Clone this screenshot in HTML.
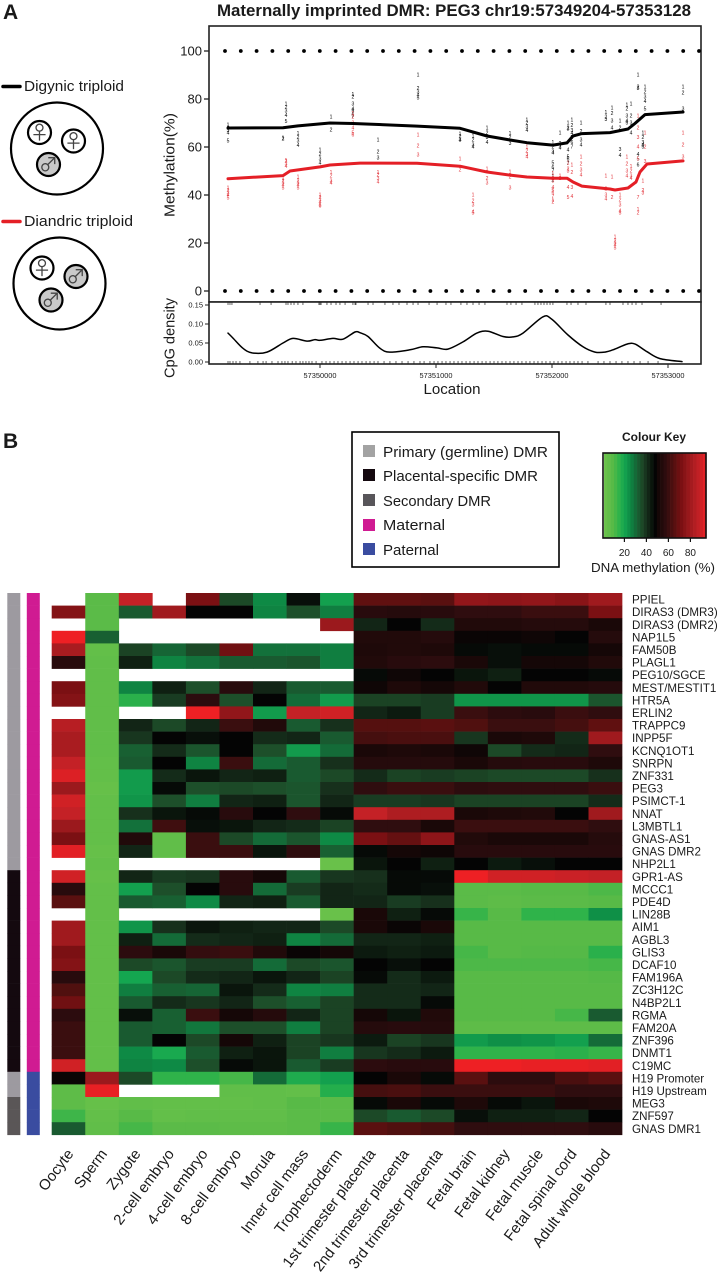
<!DOCTYPE html>
<html>
<head>
<meta charset="utf-8">
<title>Maternally imprinted DMR: PEG3</title>
<style>
html,body{margin:0;padding:0;background:#fff;width:717px;height:1280px;overflow:hidden}
svg{display:block;font-family:"Liberation Sans",sans-serif}
text{fill:#1a1a1a}
.sym{font-family:"Noto Sans CJK JP","DejaVu Sans",sans-serif}
text.sym{fill:#444}
</style>
</head>
<body>
<svg id="figure" xmlns="http://www.w3.org/2000/svg" width="717" height="1280" viewBox="0 0 717 1280">
  <text x="3" y="19" font-size="21" font-weight="bold">A</text>
  <text x="3" y="448" font-size="21" font-weight="bold">B</text>
  <text x="217" y="16" font-size="16.5" font-weight="bold" textLength="474" lengthAdjust="spacingAndGlyphs">Maternally imprinted DMR: PEG3 chr19:57349204-57353128</text>

  <g>
    <line x1="3" y1="86.5" x2="20" y2="86.5" stroke="#000" stroke-width="3.5" stroke-linecap="round"/>
    <text x="24" y="91" font-size="15" textLength="100" lengthAdjust="spacingAndGlyphs">Digynic triploid</text>
    <circle cx="57" cy="148.5" r="46" fill="#fff" stroke="#000" stroke-width="2.2"/>
    <circle cx="39.5" cy="132.5" r="11.5" fill="#fff" stroke="#000" stroke-width="2.2"/>
    <text class="sym" x="39.5" y="139" font-size="19" text-anchor="middle">♀</text>
    <circle cx="73.5" cy="141" r="11.5" fill="#fff" stroke="#000" stroke-width="2.2"/>
    <text class="sym" x="73.5" y="147.5" font-size="19" text-anchor="middle">♀</text>
    <circle cx="48.5" cy="164.5" r="11.5" fill="#c9c9c9" stroke="#000" stroke-width="2.2"/>
    <text class="sym" x="48.5" y="171" font-size="19" text-anchor="middle">♂</text>

    <line x1="3" y1="221.5" x2="20" y2="221.5" stroke="#e41f26" stroke-width="3.5" stroke-linecap="round"/>
    <text x="24" y="226" font-size="15" textLength="109" lengthAdjust="spacingAndGlyphs">Diandric triploid</text>
    <circle cx="59.5" cy="283.5" r="46" fill="#fff" stroke="#000" stroke-width="2.2"/>
    <circle cx="42" cy="268" r="11.5" fill="#fff" stroke="#000" stroke-width="2.2"/>
    <text class="sym" x="42" y="274.5" font-size="19" text-anchor="middle">♀</text>
    <circle cx="76" cy="276.5" r="11.5" fill="#c9c9c9" stroke="#000" stroke-width="2.2"/>
    <text class="sym" x="76" y="283" font-size="19" text-anchor="middle">♂</text>
    <circle cx="51" cy="300" r="11.5" fill="#c9c9c9" stroke="#000" stroke-width="2.2"/>
    <text class="sym" x="51" y="306.5" font-size="19" text-anchor="middle">♂</text>
  </g>

  <text transform="translate(174.5,165) rotate(-90)" font-size="15" text-anchor="middle" textLength="104" lengthAdjust="spacingAndGlyphs">Methylation(%)</text>
  <text transform="translate(174.5,338) rotate(-90)" font-size="15" text-anchor="middle" textLength="80" lengthAdjust="spacingAndGlyphs">CpG density</text>
  <text x="452" y="394" font-size="15" text-anchor="middle" textLength="57" lengthAdjust="spacingAndGlyphs">Location</text>

  <g id="panel-a"></g>

  <g>
    <rect x="352" y="432" width="207" height="135" fill="#fff" stroke="#000" stroke-width="1.6"/>
    <rect x="363" y="445" width="12" height="12" fill="#a3a3a3"/>
    <text x="383" y="457" font-size="15" textLength="165" lengthAdjust="spacingAndGlyphs">Primary (germline) DMR</text>
    <rect x="363" y="469" width="12" height="12" fill="#14090f"/>
    <text x="383" y="481" font-size="15" textLength="155" lengthAdjust="spacingAndGlyphs">Placental-specific DMR</text>
    <rect x="363" y="494" width="12" height="12" fill="#58565a"/>
    <text x="383" y="506" font-size="15" textLength="108" lengthAdjust="spacingAndGlyphs">Secondary DMR</text>
    <rect x="363" y="519" width="12" height="12" fill="#d01b92"/>
    <text x="383" y="530" font-size="15" textLength="62" lengthAdjust="spacingAndGlyphs">Maternal</text>
    <rect x="363" y="543" width="12" height="12" fill="#3a4ca0"/>
    <text x="383" y="555" font-size="15" textLength="56" lengthAdjust="spacingAndGlyphs">Paternal</text>
  </g>

  <text x="654" y="441" font-size="11.5" font-weight="bold" text-anchor="middle" textLength="64" lengthAdjust="spacingAndGlyphs">Colour Key</text>
  <text x="653" y="572" font-size="13" text-anchor="middle" textLength="124" lengthAdjust="spacingAndGlyphs">DNA methylation (%)</text>
  <g id="colour-key"></g>
  <g id="heatmap"></g>
</svg>

<script>
// ---------- Panel A data ----------
var referenceLevels = [100, 0];
var methTicks = [0, 20, 40, 60, 80, 100];
var densityTicks = [0, 0.05, 0.10, 0.15];
var locationTicks = [57350000, 57351000, 57352000, 57353000];
var locationBase = 57349000;

var digynicOffsets = [207,681,810,1086,1284,1836,2207,2440,2638,2784,3008,3129,3181,3258,3500,3655,3715,3802,4129];
var digynicMeth = [67.9,68,68.8,70,69.8,68.7,67.8,64.6,62.9,61.8,60.8,61.7,64.6,65.6,66,67.5,69.8,73.5,74.6];
var diandricOffsets = [207,681,741,1000,1086,1345,1836,2207,2440,2638,2784,3008,3129,3181,3258,3500,3543,3655,3724,3759,3819,4129];
var diandricMeth = [46.8,48.1,50,51.7,52.5,53.3,53.2,52,49.6,48.3,47.5,47,47,45.4,43.7,42.5,42.1,42.9,45.4,49.6,52.9,54.2];

var siteOffsets = [207,681,707,810,1000,1095,1284,1500,1845,2207,2319,2440,2638,2784,3008,3069,3138,3172,3250,3465,3517,3543,3586,3646,3681,3741,3784,3802,4129];
var siteDigynic = [
 [69.2,68,67,66,62.5],[63.8,63.4],[78,76.5,75,73.3,70.8],[65.8,64,62.5,60.8],[58.8,57,55,53.5],[72.5,67.1],
 [82,81,78,76,75,73.5,72.5],[63,57.9,55.4],[90,84.5,83,81.5,80.4],[65.5,64.5,63,62.9],[64.6,63,61,60],[67.9,66,64,62],
 [65.8,64,61.5],[71.3,70,68.5,67],[62,60,58,57.5,53.5,51.5,50,48,46.3],[66,61.5,60,59.6],[70,68,67.5,58.8,56,55,53.3],
 [71.3,69,67,65.8,64,62,60],[70,66.5,63,61],[74.5,72.5,71.5],[76.3,74,71,68],[],[71,68,59,56.5],[77.5,76,73,71,70],
 [78,73,70,66],[90,85,84.5,57,55,52.5],[66,64,62,61,60],[85,83,81,79,76],[85,82.5,76]
];
var siteDiandric = [
 [43,42,41,40,38.8],[47,46,45,44,43],[54.5,54,53,52],[47.5,46,45,44,43],[40,39,38,37,36,35.4],[49.5,48,46,45],
 [74,72.5,70,68,66,65],[49.5,48.5,47,45.5],[65,60.4,56.7],[55,50.6],[40,37.5,36,33,32.5],[51,47,45],
 [49.6,47.5,42.9],[60,58.5,57,56],[49,47,46,43.3,42,41,39.5,38,37.1],[48,47],[53.5,51,50,43.3,39],
 [52.5,49.5,43.3,39.5],[56,53,50.5,48.5],[48,42.5,40,38.5],[47.5,39],[22.5,21,20,19,18],[40,38,36,33.5,32.5],[56,53,50,48],
 [52,50,48,47],[73,68,64,60,55,47.5,39,34,32.5],[46,42,41],[66,60,54],[66,61,56]
];

var densityOffsets = [207,250,336,414,543,681,767,888,957,1000,1112,1198,1302,1345,1414,1517,1603,1776,1888,2009,2103,2233,2353,2448,2578,2664,2750,2922,3000,3138,3267,3371,3457,3526,3647,3716,3819,3931,4121];
var densityValues = [0.076,0.063,0.036,0.024,0.026,0.05,0.062,0.055,0.059,0.057,0.062,0.06,0.079,0.077,0.067,0.036,0.026,0.032,0.04,0.037,0.034,0.053,0.076,0.081,0.067,0.066,0.076,0.119,0.112,0.071,0.04,0.026,0.026,0.032,0.047,0.047,0.027,0.009,0.001];

var rugTopOffsets = [207,224,241,483,578,707,724,750,776,810,853,991,1000,1009,1060,1095,1138,1172,1216,1284,1302,1310,1414,1457,1560,1629,1681,1750,1802,1845,1940,2009,2086,2129,2215,2267,2319,2371,2422,2612,2646,2690,2741,2853,2879,2905,2931,2957,2983,3008,3129,3164,3224,3293,3465,3500,3612,3655,3690,3724,3776,3940];
var rugBottomOffsets = [207,224,250,276,310,396,465,509,535,586,638,672,698,724,760,793,828,853,879,905,931,966,1017,1052,1086,1121,1155,1190,1224,1259,1293,1328,1362,1397,1431,1466,1500,1552,1603,1655,1707,1759,1810,1862,1897,1948,1983,2017,2052,2086,2121,2155,2190,2224,2259,2293,2328,2362,2397,2431,2466,2500,2534,2569,2603,2638,2672,2707,2741,2776,2810,2845,2879,2914,2948,2983,3017,3052,3086,3121,3155,3190,3224,3259,3310,3397,3448,3500,3552,3603,3655,3707,3759,3828,3914];

// ---------- Panel B data ----------
var columnLabels = ["Oocyte","Sperm","Zygote","2-cell embryo","4-cell embryo","8-cell embryo","Morula","Inner cell mass","Trophectoderm","1st trimester placenta","2nd trimester placenta","3rd trimester placenta","Fetal brain","Fetal kidney","Fetal muscle","Fetal spinal cord","Adult whole blood"];
var rowLabels = ["PPIEL","DIRAS3 (DMR3)","DIRAS3 (DMR2)","NAP1L5","FAM50B","PLAGL1","PEG10/SGCE","MEST/MESTIT1","HTR5A","ERLIN2","TRAPPC9","INPP5F","KCNQ1OT1","SNRPN","ZNF331","PEG3","PSIMCT-1","NNAT","L3MBTL1","GNAS-AS1","GNAS DMR2","NHP2L1","GPR1-AS","MCCC1","PDE4D","LIN28B","AIM1","AGBL3","GLIS3","DCAF10","FAM196A","ZC3H12C","N4BP2L1","RGMA","FAM20A","ZNF396","DNMT1","C19MC","H19 Promoter","H19 Upstream","MEG3","ZNF597","GNAS DMR1"];
var rowClass = ["P","P","P","P","P","P","P","P","P","P","P","P","P","P","P","P","P","P","P","P","P","P","C","C","C","C","C","C","C","C","C","C","C","C","C","C","C","C","P","P","S","S","S"];
var rowParent = ["M","M","M","M","M","M","M","M","M","M","M","M","M","M","M","M","M","M","M","M","M","M","M","M","M","M","M","M","M","M","M","M","M","M","M","M","M","M","F","F","F","F","F"];
var _ = null;
var heatmapValues = [
 [_,8,88,_,72,36,25,46,21,67,67,66,77,76,77,75,80],
 [74,8,33,80,48,48,26,35,27,56,55,56,58,58,60,60,72],
 [_,8,_,_,_,_,_,_,79,42,48,41,54,54,55,55,52],
 [95,32,_,_,_,_,_,_,_,54,54,55,49,49,50,48,55],
 [82,5,37,31,36,70,29,29,27,53,54,53,47,46,47,47,51],
 [56,6,43,26,29,33,33,34,27,54,56,57,52,46,51,51,54],
 [_,6,_,_,_,_,_,_,_,47,50,48,45,43,48,48,47],
 [72,6,26,43,35,56,42,33,33,50,53,51,54,48,54,54,55],
 [74,6,16,38,57,35,48,30,22,37,37,38,23,23,23,23,34],
 [_,6,_,_,95,77,22,88,90,42,44,38,60,57,56,60,58],
 [85,6,42,36,42,60,54,33,40,65,65,66,64,60,60,62,67],
 [82,6,39,48,46,48,41,42,33,62,63,63,39,52,53,41,80],
 [82,6,32,41,34,48,35,22,30,52,53,52,50,36,41,42,58],
 [88,5,33,48,26,60,30,33,40,55,55,55,52,55,56,56,53],
 [92,5,22,41,45,42,43,33,36,41,37,38,37,36,36,36,40],
 [79,4,22,47,35,36,35,34,40,58,60,60,57,58,58,58,60],
 [90,5,23,35,27,42,43,34,42,38,38,39,37,37,37,37,41],
 [88,5,40,45,47,56,48,58,47,88,83,83,52,53,54,48,80],
 [79,5,29,61,46,45,42,41,37,58,58,52,60,60,60,60,58],
 [72,5,54,6,60,36,30,34,25,72,68,76,54,52,52,52,55],
 [93,4,42,6,60,60,45,58,32,47,51,50,56,56,56,56,56],
 [_,5,_,_,_,_,_,_,3,45,48,43,48,44,46,48,48],
 [90,4,42,38,39,56,51,33,39,40,47,47,95,90,90,89,88],
 [56,5,21,35,48,56,30,38,42,41,47,46,8,8,9,9,11],
 [66,5,33,32,25,42,43,33,42,42,38,40,8,7,8,8,9],
 [_,5,_,_,_,_,_,_,3,52,43,47,14,9,15,15,24],
 [80,5,23,40,45,43,42,42,36,52,49,52,9,9,9,9,9],
 [80,5,43,30,41,42,43,26,30,42,42,43,9,9,9,9,9],
 [72,5,57,52,59,60,54,49,51,44,43,44,12,9,10,10,16],
 [74,5,36,34,38,38,30,36,34,48,46,48,11,11,11,11,12],
 [56,5,20,36,41,42,45,42,37,47,41,44,9,9,9,9,10],
 [64,5,27,32,31,45,41,26,27,41,41,42,9,9,9,9,9],
 [70,5,33,41,39,42,35,32,37,41,41,47,9,9,9,9,9],
 [57,5,46,32,60,51,55,42,37,51,45,54,9,9,9,12,33],
 [60,5,33,32,28,35,35,27,37,55,56,55,7,7,7,7,7],
 [60,5,33,48,36,51,43,37,39,44,37,39,22,24,23,21,30],
 [60,5,25,19,33,43,45,37,27,39,41,44,15,15,15,16,14],
 [90,5,26,25,35,47,45,33,38,57,56,56,95,95,94,94,93],
 [49,79,36,15,15,12,30,18,21,48,52,47,66,57,57,63,66],
 [7,94,_,_,_,6,6,5,17,62,63,60,60,60,60,58,58],
 [7,4,6,5,5,5,6,9,8,47,52,47,53,47,45,52,53],
 [13,5,9,5,6,6,6,8,8,36,33,36,46,43,43,42,48],
 [33,6,12,8,8,7,7,8,14,66,64,62,58,58,58,58,56]
];
var keyTicks = [20, 40, 60, 80];
var keyBandValues = [3,6,9,12,15,18,21,24,27,30,33,36,39,42,45,48,51,54,57,60,63,66,69,72,75,78,81,84,87,90,93];

// ---------- Scales ----------
var NS = 'http://www.w3.org/2000/svg';
function make(tag, parent, attrs) {
  var node = document.createElementNS(NS, tag);
  for (var k in attrs) node.setAttribute(k, attrs[k]);
  parent.appendChild(node);
  return node;
}
function xLoc(pos) { return 320 + (pos - 57350000) * 0.116; }
function xOff(off) { return xLoc(locationBase + off); }
function yMeth(v) { return 291 - v * 2.4; }
function yDens(v) { return 362 - v * 380; }

var colourStops = [
 [2,[108,194,74]],[10,[85,185,71]],[15,[47,179,74]],[20,[20,166,80]],[25,[14,138,69]],[30,[20,107,56]],[35,[29,79,42]],
 [40,[23,48,28]],[44,[12,26,15]],[48,[4,4,4]],[52,[26,8,8]],[58,[47,13,15]],[65,[85,16,15]],[72,[123,16,19]],[80,[160,26,30]],[88,[196,33,38]],[95,[238,32,36]]
];
function colour(v) {
  for (var i = 1; i < colourStops.length; i++) {
    if (v <= colourStops[i][0]) {
      var a = colourStops[i-1], b = colourStops[i];
      var t = Math.max(0, (v - a[0]) / (b[0] - a[0]));
      return 'rgb(' + [0,1,2].map(function(c){ return Math.round(a[1][c] + (b[1][c]-a[1][c]) * t); }).join(',') + ')';
    }
  }
  return 'rgb(238,32,36)';
}

// ---------- Panel A drawing ----------
var pa = document.getElementById('panel-a');

var mainBox = make('rect', pa, {x:209, y:26, width:492, height:276, fill:'#fff', stroke:'#222', 'stroke-width':1.6});



var densBox = make('rect', pa, {x:209, y:302, width:492, height:62, fill:'#fff', stroke:'#222', 'stroke-width':1.6});



methTicks.forEach(function(t) {
  var y = yMeth(t);
  var tick = make('line', pa, {x1:204, x2:209, y1:y, y2:y, stroke:'#222', 'stroke-width':1.3});
  
  
  var lab = make('text', pa, {x:202, y:y+4.5, 'font-size':13, 'text-anchor':'end'});
  lab.textContent = String(t);
  
  
});
densityTicks.forEach(function(t) {
  var y = yDens(t);
  var tick = make('line', pa, {x1:205, x2:209, y1:y, y2:y, stroke:'#222', 'stroke-width':1});
  
  
  var lab = make('text', pa, {x:203, y:y+2.7, 'font-size':7.5, 'text-anchor':'end'});
  lab.textContent = t.toFixed(2);
  
  
});
locationTicks.forEach(function(t) {
  var x = xLoc(t);
  var tick = make('line', pa, {x1:x, x2:x, y1:364, y2:368, stroke:'#222', 'stroke-width':1});
  
  
  var lab = make('text', pa, {x:x, y:378, 'font-size':7.4, 'text-anchor':'middle'});
  lab.textContent = String(t);
  
  
});

referenceLevels.forEach(function(level) {
  for (var px = 225; px < 701; px += 15.8) {
    var dot = make('circle', pa, {cx:px, cy:yMeth(level), r:1.9, fill:'#000'});
    
    
  }
});

siteOffsets.forEach(function(off, i) {
  siteDigynic[i].forEach(function(v, j) {
    var d = make('text', pa, {x:xOff(off), y:yMeth(v)+1.7, 'font-size':5, 'text-anchor':'middle'});
    d.style.fill = '#000';
    d.textContent = String(j % 7 + 1);
    
    
  });
  siteDiandric[i].forEach(function(v, j) {
    var d = make('text', pa, {x:xOff(off), y:yMeth(v)+1.7, 'font-size':5, 'text-anchor':'middle'});
    d.style.fill = '#e2333a';
    d.textContent = String(j % 7 + 1);
    
    
  });
});

function pointsOf(xs, ys, fx, fy) {
  return xs.map(function(x, i) { return fx(x).toFixed(1) + ',' + fy(ys[i]).toFixed(1); }).join(' ');
}
function smoothPath(xs, ys, fx, fy) {
  var p = xs.map(function(x, i) { return [fx(x), fy(ys[i])]; });
  var d = 'M' + p[0][0].toFixed(1) + ' ' + p[0][1].toFixed(1);
  for (var i = 0; i < p.length - 1; i++) {
    var p0 = p[Math.max(0, i-1)], p1 = p[i], p2 = p[i+1], p3 = p[Math.min(p.length-1, i+2)];
    d += 'C' + (p1[0] + (p2[0]-p0[0])/6).toFixed(1) + ' ' + (p1[1] + (p2[1]-p0[1])/6).toFixed(1) + ' ' +
         (p2[0] - (p3[0]-p1[0])/6).toFixed(1) + ' ' + (p2[1] - (p3[1]-p1[1])/6).toFixed(1) + ' ' +
         p2[0].toFixed(1) + ' ' + p2[1].toFixed(1);
  }
  return d;
}
var digynicLine = make('polyline', pa, {points:pointsOf(digynicOffsets, digynicMeth, xOff, yMeth), fill:'none', stroke:'#000', 'stroke-width':3, 'stroke-linejoin':'round', 'stroke-linecap':'round'});



var diandricLine = make('polyline', pa, {points:pointsOf(diandricOffsets, diandricMeth, xOff, yMeth), fill:'none', stroke:'#e41f26', 'stroke-width':3, 'stroke-linejoin':'round', 'stroke-linecap':'round'});



var densLine = make('path', pa, {d:smoothPath(densityOffsets, densityValues, xOff, yDens), fill:'none', stroke:'#000', 'stroke-width':1.5, 'stroke-linejoin':'round', 'stroke-linecap':'round'});



rugTopOffsets.forEach(function(off) {
  var r = make('line', pa, {x1:xOff(off), x2:xOff(off), y1:302, y2:305, stroke:'#222', 'stroke-width':0.7});
  
  
});
rugBottomOffsets.forEach(function(off) {
  var r = make('line', pa, {x1:xOff(off), x2:xOff(off), y1:361, y2:364, stroke:'#222', 'stroke-width':0.7});
  
  
});

// ---------- Colour key ----------
var ck = document.getElementById('colour-key');
function xKey(v) { return 602.4 + v * 1.1; }
keyBandValues.forEach(function(v) {
  var band = make('rect', ck, {x:xKey(v-1.5), y:453, width:3.6, height:85, fill:colour(v)});
  
  
});
var ckFrame = make('rect', ck, {x:603, y:453, width:103, height:85, fill:'none', stroke:'#111', 'stroke-width':1.6});


keyTicks.forEach(function(t) {
  var tick = make('line', ck, {x1:xKey(t), x2:xKey(t), y1:538, y2:542, stroke:'#111', 'stroke-width':1.2});
  
  
  var lab = make('text', ck, {x:xKey(t), y:556, 'font-size':10, 'text-anchor':'middle'});
  lab.textContent = String(t);
  
  
});

// ---------- Heatmap ----------
var hm = document.getElementById('heatmap');
var classColours = {P:'#9d9aa0', C:'#14090f', S:'#5a5657'};
var parentColours = {M:'#d01b92', F:'#3a4ca0'};
function xCol(c) { return 51.7 + c * 33.55; }
function yRow(r) { return 593 + r * 12.6; }

rowLabels.forEach(function(label, r) {
  var cb = make('rect', hm, {x:7.3, y:yRow(r), width:13, height:12.9, fill:classColours[rowClass[r]]});
  
  
  var pb = make('rect', hm, {x:26.8, y:yRow(r), width:13, height:12.9, fill:parentColours[rowParent[r]]});
  
  
  heatmapValues[r].forEach(function(v, c) {
    if (v === null) return;
    var cell = make('rect', hm, {x:xCol(c), y:yRow(r), width:33.85, height:12.9, fill:colour(v)});
    
    
  });
  var lab = make('text', hm, {x:632, y:yRow(r)+10.6, 'font-size':11.6});
  lab.textContent = label;
  
  
});
columnLabels.forEach(function(label, c) {
  var x = xCol(c) + 22.5;
  var lab = make('text', hm, {transform:'translate(' + x.toFixed(1) + ',1154) rotate(-53)', 'font-size':15, 'text-anchor':'end'});
  lab.textContent = label;
  
  
});
</script>
</body>
</html>
